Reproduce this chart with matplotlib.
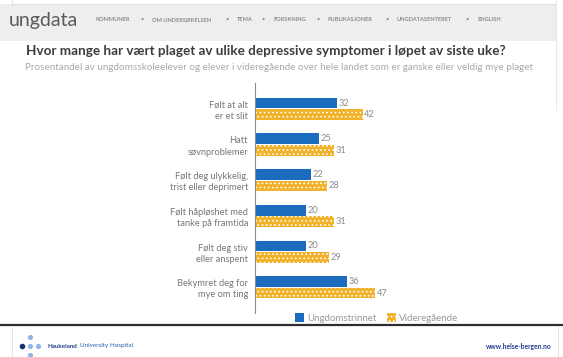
import matplotlib
matplotlib.use("Agg")
import matplotlib.pyplot as plt
from matplotlib.patches import Rectangle

plt.rcParams['font.family'] = ['Lato', 'DejaVu Sans']
plt.rcParams['hatch.linewidth'] = 0.7

# data
kategorier = ["Følt at alt\ner et slit", "Hatt\nsøvnproblemer",
              "Følt deg ulykkelig,\ntrist eller deprimert",
              "Følt håpløshet med\ntanke på framtida",
              "Følt deg stiv\neller anspent", "Bekymret deg for\nmye om ting"]
ungdomstrinnet = [32, 25, 22, 20, 20, 36]
videregaende = [42, 31, 28, 31, 29, 47]
serier = ["Ungdomstrinnet", "Videregående"]

tittel = "Hvor mange har vært plaget av ulike depressive symptomer i løpet av siste uke?"
undertittel = ("Prosentandel av ungdomsskoleelever og elever i videregående over hele "
               "landet som er ganske eller veldig mye plaget")
meny = ["KOMMUNER", "OM UNDERSØKELSEN", "TEMA", "FORSKNING", "PUBLIKASJONER",
        "UNGDATASENTERET", "ENGLISH"]
meny_x = [96, 152, 237, 273, 328, 397, 477]

BLA = "#1b6cbf"
ORANSJE = "#f1b22a"
W, H = 563, 357

fig = plt.figure(figsize=(W / 100, H / 100), dpi=100)

# bakgrunn / dekor i piksler
bg = fig.add_axes([0, 0, 1, 1])
bg.set_xlim(0, W)
bg.set_ylim(H, 0)
bg.axis("off")
bg.add_patch(Rectangle((0, 4), 556, 37, facecolor="#f0eeed", edgecolor="none"))
bg.plot([12, 556], [3.5, 3.5], color="#dddddd", lw=0.6)
bg.plot([556, 556], [0, 110], color="#e4e4e4", lw=0.6)
bg.plot([12, 12], [0, 4], color="#dddddd", lw=0.6)
bg.text(9, 19, "ungdata", fontsize=14, color="#5a5a5a", va="center_baseline",
        ha="left", fontweight="normal")
for i, (m, x) in enumerate(zip(meny, meny_x)):
    bg.text(x, 19, m, fontsize=4.1, color="#8a8a8a", va="center_baseline", ha="left",
            fontweight="bold")
    if i < len(meny) - 1:
        bg.text(meny_x[i + 1] - 10, 19, "•", fontsize=4.1, color="#8a8a8a",
                va="center_baseline", ha="center")
bg.text(26, 51, tittel, fontsize=9.7, fontweight="bold", color="#3d3d3d",
        va="center", ha="left")
bg.text(25, 67.5, undertittel, fontsize=7.1, color="#a9a9a9", va="center", ha="left")

# bunn
bg.plot([0, W], [325, 325], color="#2e2e2e", lw=1.6)
bg.plot([12, 12], [326, H], color="#e0e0e0", lw=0.6)
bg.plot([558, 558], [326, H], color="#e0e0e0", lw=0.6)
bg.scatter([22], [346], s=9, color="#1c2f6e", zorder=3)
bg.scatter([30, 38, 30, 30], [346, 346, 337, 355], s=7, color="#8fb3e6", zorder=3)
bg.text(48, 346, "Haukeland", fontsize=4.5, fontweight="bold", color="#1f3e8c",
        va="center", ha="left")
bg.text(79.5, 346, "University Hospital", fontsize=4.5, color="#2a58b0",
        va="center", ha="left")
bg.text(552, 346, "www.helse-bergen.no", fontsize=4.8, fontweight="bold",
        color="#1f3e8c", va="center", ha="right")

# hoveddiagram
ax = fig.add_axes([255 / W, (H - 313) / H, 300 / W, 230 / H])
ax.set_xlim(0, 300 / 2.56)
ax.set_ylim(5.72, -0.72)
ax.patch.set_alpha(0)

pos = list(range(len(kategorier)))
h = 0.3
b1 = ax.barh([p - 0.16 for p in pos], ungdomstrinnet, height=h, color=BLA,
             label=serier[0])
b2 = ax.barh([p + 0.16 for p in pos], videregaende, height=h, color=ORANSJE,
             edgecolor="white", linewidth=0, hatch="....", label=serier[1])

for p, v in zip(pos, ungdomstrinnet):
    ax.text(v + 0.6, p - 0.16, str(v), fontsize=6.6, color="#8a8a8a", va="center")
for p, v in zip(pos, videregaende):
    ax.text(v + 0.6, p + 0.16, str(v), fontsize=6.6, color="#8a8a8a", va="center")

ax.set_yticks(pos, kategorier)
ax.tick_params(axis="y", length=0, pad=5, labelsize=6.7, labelcolor="#777777")
for lab in ax.get_yticklabels():
    lab.set_linespacing(1.3)
ax.set_xticks([])
for s in ["top", "right", "bottom"]:
    ax.spines[s].set_visible(False)
ax.spines["left"].set_color("#8c8c8c")
ax.spines["left"].set_linewidth(0.8)

fig.legend(handles=[b1, b2], labels=serier, loc="center left",
           bbox_to_anchor=(290 / W, 1 - 318 / H), ncol=2, frameon=False,
           fontsize=7.0, labelcolor="#9a9a9a", handlelength=0.95, handleheight=0.95,
           handletextpad=0.35, columnspacing=1.0, borderpad=0)

fig.savefig("out.png", dpi=100)
